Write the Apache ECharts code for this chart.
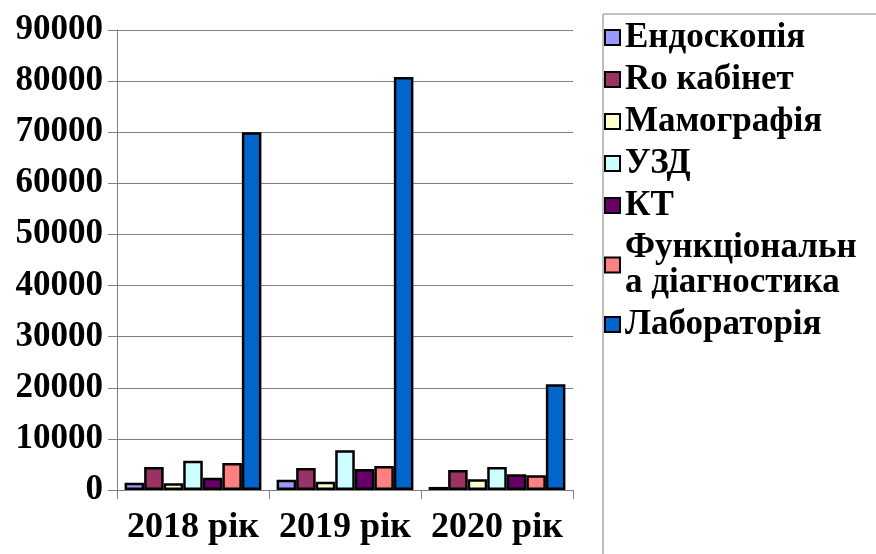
<!DOCTYPE html>
<html lang="uk">
<head>
    <meta charset="UTF-8">
    <title>Chart</title>
    <style>
        * { margin: 0; padding: 0; }
        #main { width: 876px; height: 554px; background: #fff; }
    </style>
    <script src="https://cdn.jsdelivr.net/npm/echarts@6/dist/echarts.min.js"></script>
</head>
<body>
    <div id="main"></div>
    <script>
        var years = ['2018 рік', '2019 рік', '2020 рік'];
        var names = ['Ендоскопія', 'Ro кабінет', 'Мамографія', 'УЗД', 'КТ', 'Функціональн\nа діагностика', 'Лабораторія'];
        var colors = ['#9999FF', '#993366', '#FFFFCC', '#CCFFFF', '#660066', '#FF8080', '#0066CC'];
        var endoscopy = [1400, 2000, 600];
        var roCabinet = [4500, 4300, 3900];
        var mammography = [1300, 1600, 2100];
        var uzd = [5700, 7800, 4500];
        var kt = [2400, 4100, 3100];
        var functional = [5300, 4700, 2900];
        var laboratory = [70000, 80800, 20700];
        var values = [endoscopy, roCabinet, mammography, uzd, kt, functional, laboratory];

        var font = 'Liberation Serif';
        var myChart = echarts.init(document.getElementById('main'));

        var series = names.map(function (n, i) {
            return {
                name: n,
                type: 'bar',
                data: values[i],
                barGap: '0%',
                barCategoryGap: '10%',
                itemStyle: { color: colors[i], borderColor: '#000', borderWidth: 2.5 }
            };
        });

        var option = {
            animation: false,
            backgroundColor: '#fff',
            textStyle: { fontFamily: font },
            grid: { left: 117, right: 303, top: 30, bottom: 64 },
            legend: {
                orient: 'vertical',
                left: 604,
                top: 20,
                padding: 0,
                itemGap: 7,
                itemWidth: 15,
                itemHeight: 15,
                icon: 'rect',
                data: names,
                textStyle: { fontFamily: font, fontWeight: 'bold', fontSize: 35, color: '#000' }
            },
            graphic: [{
                type: 'rect',
                shape: { x: 603, y: 14, width: 300, height: 600 },
                style: { fill: 'none', stroke: '#808080', lineWidth: 1 },
                z: -1
            }],
            xAxis: {
                type: 'category',
                data: years,
                axisLine: { lineStyle: { color: '#808080' } },
                axisTick: { show: true, length: 9, lineStyle: { color: '#808080' } },
                axisLabel: { interval: 0, fontFamily: font, fontWeight: 'bold', fontSize: 36, color: '#000', margin: 20 }
            },
            yAxis: {
                type: 'value',
                min: 0,
                max: 90000,
                interval: 10000,
                axisLine: { show: true, lineStyle: { color: '#808080' } },
                axisTick: { show: true, length: 9, lineStyle: { color: '#808080' } },
                splitLine: { lineStyle: { color: '#808080' } },
                axisLabel: {
                    formatter: function (v) { return String(v); },
                    fontFamily: font, fontWeight: 'bold', fontSize: 35, color: '#000', margin: 14
                }
            },
            series: series
        };
        myChart.setOption(option);
    </script>
</body>
</html>
